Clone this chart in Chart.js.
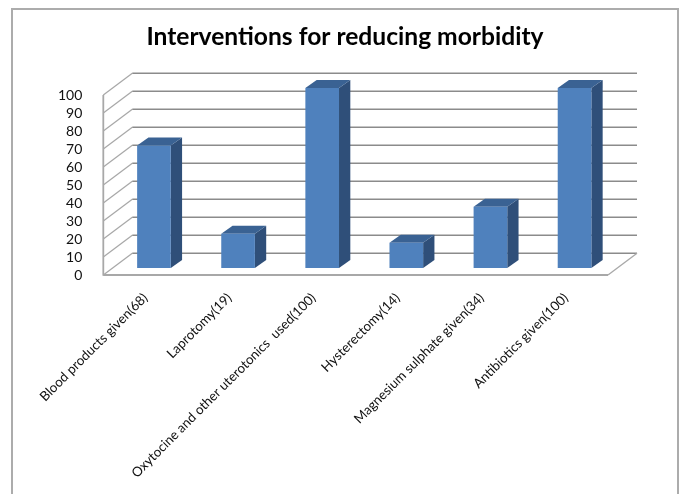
<!DOCTYPE html>
<html>
<head>
<meta charset="utf-8">
<style>
  html, body { margin: 0; padding: 0; background: #fff; overflow: hidden; }
  #frame { position: absolute; left: 11px; top: 8px; width: 668px; height: 495px; border: 2px solid #acacac; box-sizing: border-box; }
  canvas { position: absolute; left: 0; top: 0; }
</style>
<script src="https://cdn.jsdelivr.net/npm/chart.js@4"></script>
</head>
<body>
<div id="frame"></div>
<canvas id="chart" width="679" height="494"></canvas>
<script>
const chartTitle = 'Interventions for reducing morbidity';
const categories = [
  'Blood products given(68)',
  'Laprotomy(19)',
  'Oxytocine and other uterotonics  used(100)',
  'Hysterectomy(14)',
  'Magnesium sulphate given(34)',
  'Antibiotics given(100)'
];
const percentages = [68, 19, 100, 14, 34, 100];
const axisTicks = [0, 10, 20, 30, 40, 50, 60, 70, 80, 90, 100];

// Oblique projection used for the walls and the bar prisms
const wallDepth = { dx: 29, dy: 21.7 };
const barShift = { dx: 8.6, dy: 7 };
const barDepth = { dx: 11.3, dy: 8 };

const colors = { front: '#4f81bd', side: '#2f4f79', top: '#3a6293', grid: '#8b8b8b', wall: '#a8a8a8' };

function strokeLine(ctx, x1, y1, x2, y2, color, width) {
  ctx.beginPath();
  ctx.moveTo(x1, y1);
  ctx.lineTo(x2, y2);
  ctx.strokeStyle = color;
  ctx.lineWidth = width;
  ctx.stroke();
}

function fillPoly(ctx, pts, color) {
  ctx.beginPath();
  pts.forEach((p, i) => (i ? ctx.lineTo(p[0], p[1]) : ctx.moveTo(p[0], p[1])));
  ctx.closePath();
  ctx.fillStyle = color;
  ctx.fill();
}

const pseudo3d = {
  id: 'pseudo3d',
  afterLayout(chart) {
    // Centre the heading on the outlined panel rather than the plot
    chart.titleBlock.left = 0;
    chart.titleBlock.right = 690;
  },
  beforeDatasetsDraw(chart) {
    const { ctx, scales: { x, y } } = chart;
    const left = x.left, right = x.right;
    const floor = y.getPixelForValue(0);
    const top = y.getPixelForValue(100);
    ctx.save();
    ctx.lineCap = 'butt';

    // Back wall rules and their slanted continuation along the side wall
    axisTicks.forEach(v => {
      const py = y.getPixelForValue(v);
      strokeLine(ctx, left, py, left + wallDepth.dx, py - wallDepth.dy, colors.wall, 1.3);
      strokeLine(ctx, left + wallDepth.dx, py - wallDepth.dy, right + wallDepth.dx, py - wallDepth.dy, colors.grid, 1.5);
    });

    // Side wall edge and floor outline
    strokeLine(ctx, left, top, left, floor + 0.7, colors.wall, 1.8);
    strokeLine(ctx, left, floor, right, floor, colors.wall, 1.8);
    strokeLine(ctx, right, floor, right + wallDepth.dx, floor - wallDepth.dy, colors.wall, 1.3);

    // Prism sides and tops, placed from each bar's own geometry
    ctx.translate(barShift.dx, -barShift.dy);
    chart.getDatasetMeta(0).data.forEach(bar => {
      const p = bar.getProps(['x', 'y', 'base', 'width'], true);
      const l = p.x - p.width / 2, r = p.x + p.width / 2;
      fillPoly(ctx, [[r, p.y], [r + barDepth.dx, p.y - barDepth.dy], [r + barDepth.dx, p.base - barDepth.dy], [r, p.base]], colors.side);
      fillPoly(ctx, [[l, p.y], [l + barDepth.dx, p.y - barDepth.dy], [r + barDepth.dx, p.y - barDepth.dy], [r, p.y]], colors.top);
    });
    ctx.restore();

    // The front faces are drawn by the library inside this shifted context
    ctx.save();
    ctx.translate(barShift.dx, -barShift.dy);
  },
  afterDatasetsDraw(chart) {
    chart.ctx.restore();
  }
};

new Chart(document.getElementById('chart'), {
  type: 'bar',
  data: {
    labels: categories,
    datasets: [{
      data: percentages,
      backgroundColor: colors.front,
      borderWidth: 0,
      categoryPercentage: 1,
      barPercentage: 0.4,
      clip: false
    }]
  },
  plugins: [pseudo3d],
  options: {
    responsive: false,
    animation: false,
    devicePixelRatio: 1,
    layout: { padding: { left: 0, right: 71, top: 0, bottom: 0 } },
    plugins: {
      legend: { display: false },
      tooltip: { enabled: false },
      title: {
        display: true,
        text: chartTitle,
        color: '#000',
        font: { family: 'Lato', size: 24.6, weight: 'bold', lineHeight: 1.2 },
        padding: { top: 22, bottom: 43.5 }
      }
    },
    scales: {
      x: {
        grid: { display: false },
        border: { display: false },
        afterFit(scale) { scale.height = 219; },
        ticks: {
          color: '#111',
          font: { family: 'Lato', size: 13.3 },
          minRotation: 45,
          maxRotation: 45,
          autoSkip: false,
          padding: 7
        }
      },
      y: {
        min: 0,
        max: 100,
        grid: { display: false },
        border: { display: false },
        afterFit(scale) { scale.width = 103.3; },
        afterBuildTicks(scale) { scale.ticks = axisTicks.map(value => ({ value })); },
        ticks: {
          color: '#111',
          font: { family: 'Lato', size: 14 },
          autoSkip: false,
          padding: 13
        }
      }
    }
  }
});
</script>
</body>
</html>
